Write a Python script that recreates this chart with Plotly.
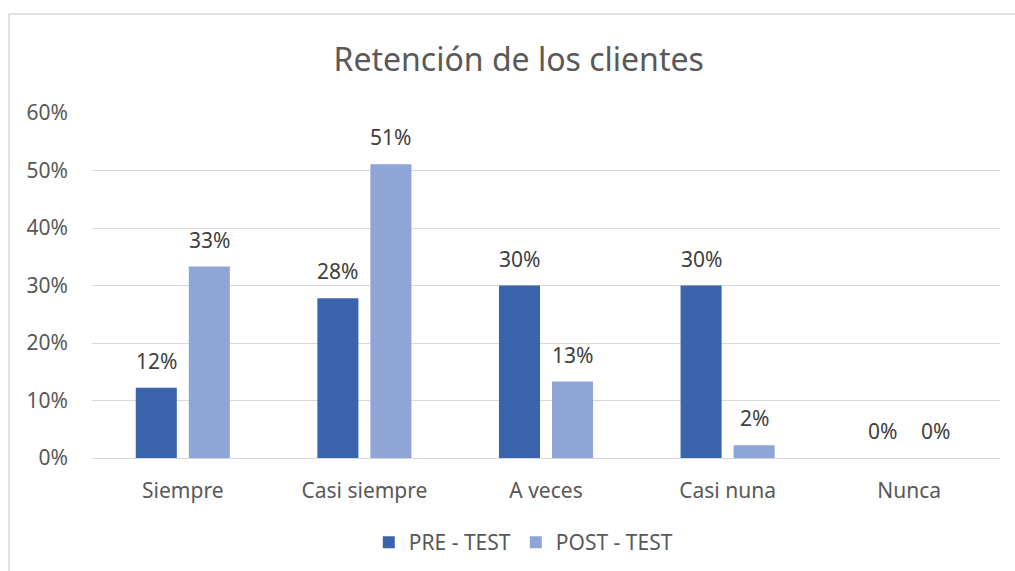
import plotly.graph_objects as go

categories = ["Siempre", "Casi siempre", "A veces", "Casi nuna", "Nunca"]
pre_test = [0.122, 0.278, 0.300, 0.300, 0.0]
post_test = [0.333, 0.511, 0.133, 0.022, 0.0]
y_ticks = [0, 0.1, 0.2, 0.3, 0.4, 0.5, 0.6]

text_color = "#595959"
font_family = "Noto Sans, Open Sans, sans-serif"

series = [("PRE - TEST", pre_test, "#3A64AC", -26.5),
          ("POST - TEST", post_test, "#8FA5D5", 26.5)]

fig = go.Figure()
for name, values, color, shift in series:
    fig.add_trace(go.Bar(x=categories, y=values, name=name,
                         marker=dict(color=color, line=dict(width=0))))
    # data labels sit a bit higher above the bars, like Excel
    for cat, v in zip(categories, values):
        fig.add_annotation(x=cat, y=v, xref="x", yref="y",
                           text=f"{v:.0%}", showarrow=False,
                           xshift=shift, yshift=11, yanchor="bottom",
                           font=dict(size=21, color="#404040"))

fig.update_layout(
    width=1015, height=571,
    margin=dict(l=92, r=15, t=113, b=113, autoexpand=False),
    paper_bgcolor="white",
    plot_bgcolor="white",
    font=dict(family=font_family, color=text_color, size=21),
    title=dict(text="Retención de los clientes", x=0.511, xanchor="center",
               y=0.895, yanchor="middle",
               font=dict(size=32, color=text_color)),
    barmode="group",
    bargap=0.416,
    bargroupgap=0.226,
    legend=dict(orientation="h", x=0.475, xanchor="center", y=-0.245,
                yanchor="middle", font=dict(size=21, color=text_color),
                itemwidth=30, traceorder="normal"),
    showlegend=True,
)
fig.update_xaxes(showgrid=False, showline=True, linecolor="#D9D9D9",
                 linewidth=1, ticks="", ticklabelstandoff=14,
                 tickfont=dict(size=21, color=text_color))
fig.update_yaxes(range=[0, 0.6], tickvals=y_ticks, tickformat=".0%",
                 showgrid=True, gridcolor="#D9D9D9", gridwidth=1,
                 zeroline=False, showline=False, ticks="",
                 ticklabelstandoff=23,
                 tickfont=dict(size=21, color=text_color))

# chart frame
fig.add_shape(type="rect", xref="paper", yref="paper",
              x0=-0.0914, x1=1.05, y0=-0.5, y1=1.287,
              line=dict(color="#D9D9D9", width=1.5), layer="below")

fig.write_html("out.html", config={"displayModeBar": False},
               post_script="document.body.style.margin='0';")
